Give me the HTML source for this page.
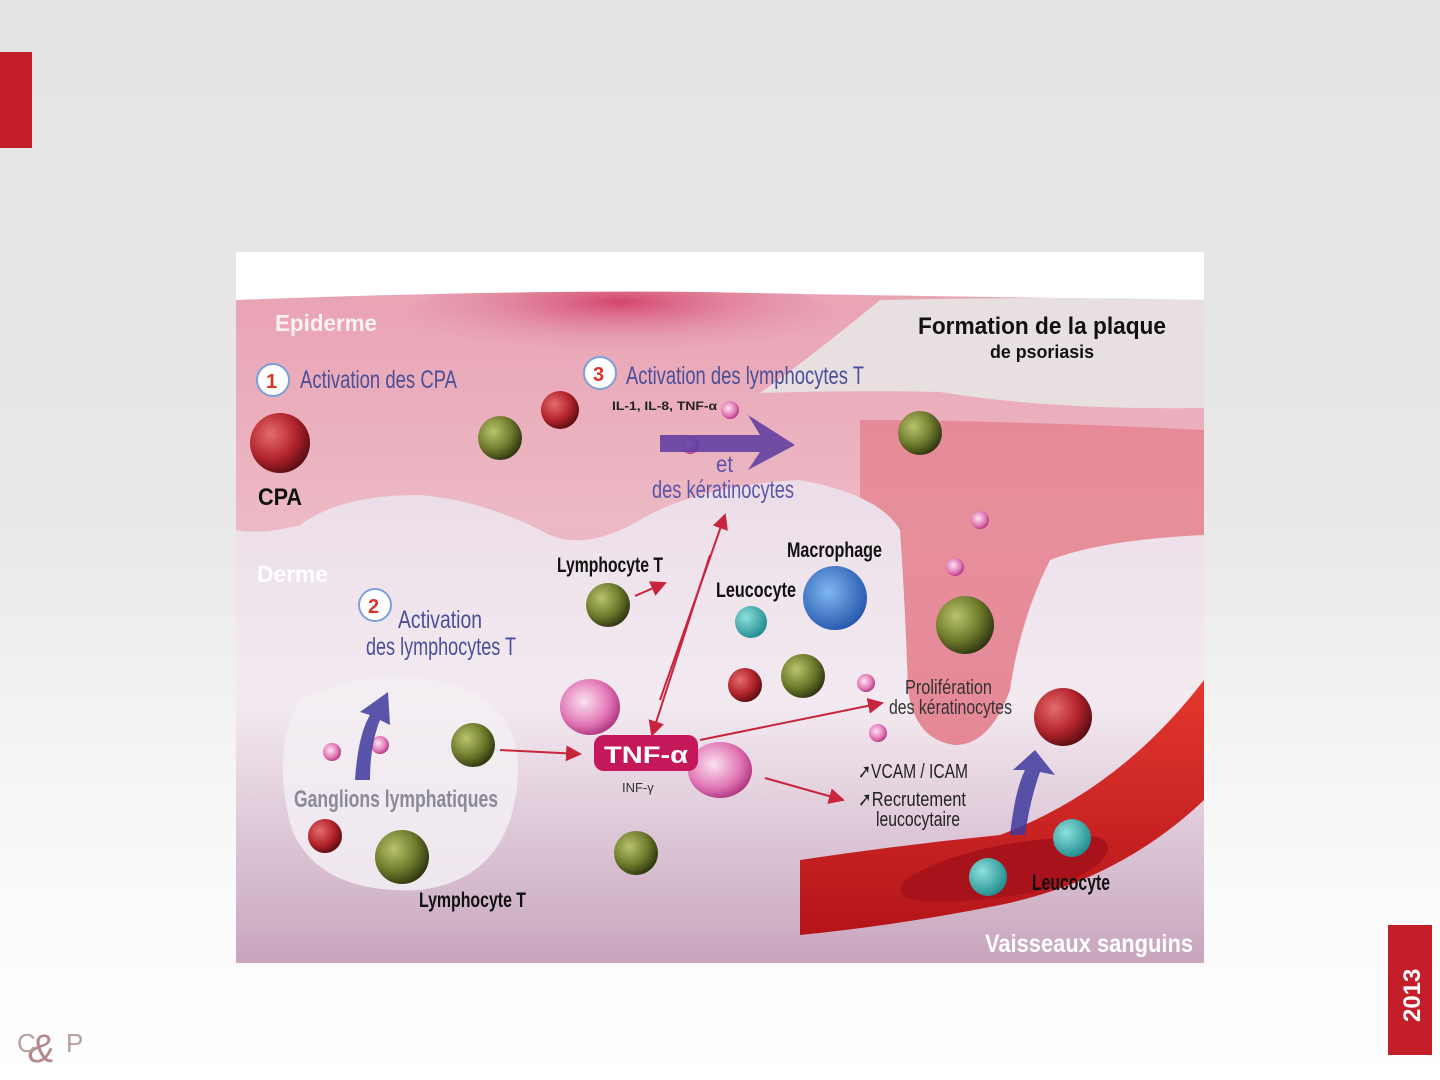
<!DOCTYPE html>
<html><head><meta charset="utf-8"><style>
html,body{margin:0;padding:0;width:1440px;height:1080px;overflow:hidden;background:linear-gradient(#e4e4e4 0px,#e8e8e8 500px,#fbfbfb 900px,#fff 1080px);}
svg{position:absolute;left:0;top:0}
text{font-family:"Liberation Sans",sans-serif}
</style></head><body>
<svg width="1440" height="1080" viewBox="0 0 1440 1080">
<defs>
<linearGradient id="epi" x1="0" y1="0" x2="0" y2="1">
<stop offset="0" stop-color="#e9a3b4"/><stop offset="0.5" stop-color="#ecb9c5"/><stop offset="1" stop-color="#e8aebb"/></linearGradient>
<radialGradient id="topred" cx="0.5" cy="0.3" r="0.6"><stop offset="0" stop-color="#d4456e"/><stop offset="1" stop-color="#e7a7b7" stop-opacity="0"/></radialGradient>
<linearGradient id="derm" x1="0" y1="0" x2="0" y2="1"><stop offset="0" stop-color="#eadbe6"/><stop offset="0.5" stop-color="#f3eaf1"/><stop offset="1" stop-color="#c8a5bd"/></linearGradient>
<radialGradient id="g" cx="0.35" cy="0.35" r="0.7"><stop offset="0" stop-color="#b9c46a"/><stop offset="0.6" stop-color="#6d7a2c"/><stop offset="1" stop-color="#2e3410"/></radialGradient>
<radialGradient id="r" cx="0.35" cy="0.35" r="0.7"><stop offset="0" stop-color="#e46c6c"/><stop offset="0.6" stop-color="#b3242c"/><stop offset="1" stop-color="#5a0d12"/></radialGradient>
<radialGradient id="c" cx="0.35" cy="0.35" r="0.7"><stop offset="0" stop-color="#8ee0dc"/><stop offset="1" stop-color="#1f8c8e"/></radialGradient>
<radialGradient id="b" cx="0.4" cy="0.4" r="0.7"><stop offset="0" stop-color="#7fb7ef"/><stop offset="1" stop-color="#1d4fa8"/></radialGradient>
<radialGradient id="p" cx="0.4" cy="0.4" r="0.7"><stop offset="0" stop-color="#fbe3f1"/><stop offset="0.6" stop-color="#e277b6"/><stop offset="1" stop-color="#a0226e"/></radialGradient>
<linearGradient id="ves" x1="0" y1="0" x2="0" y2="1"><stop offset="0" stop-color="#e4382e"/><stop offset="1" stop-color="#b4141a"/></linearGradient>
<marker id="ah" markerWidth="8" markerHeight="8" refX="7" refY="4" orient="auto"><path d="M0,0 L8,4 L0,8 z" fill="#c8243c"/></marker>
<clipPath id="ec"><path id="epath" d="M236,300 Q500,290 700,292 Q900,296 1204,300 L1204,535 Q1100,540 1050,560 Q1020,620 1010,690 Q990,745 955,745 Q915,740 908,690 Q905,600 900,530 Q880,495 800,480 Q700,485 640,520 Q580,555 540,530 Q480,500 420,495 Q340,495 300,525 Q260,535 236,530 Z"/></clipPath>
</defs>
<rect x="0" y="52" width="32" height="96" fill="#c41e2a"/>
<rect x="236" y="252" width="968" height="711" fill="#fff"/>
<rect x="236" y="440" width="968" height="523" fill="url(#derm)"/>
<path d="M236,300 Q500,290 700,292 Q900,296 1204,300 L1204,535 Q1100,540 1050,560 Q1020,620 1010,690 Q990,745 955,745 Q915,740 908,690 Q905,600 900,530 Q880,495 800,480 Q700,485 640,520 Q580,555 540,530 Q480,500 420,495 Q340,495 300,525 Q260,535 236,530 Z" fill="url(#epi)"/>
<g clip-path="url(#ec)">
<ellipse cx="620" cy="320" rx="220" ry="45" fill="url(#topred)"/>
<path d="M860,420 Q1000,420 1204,430 L1204,760 L860,760Z" fill="#e25a6a" opacity="0.45"/>
</g>
<path d="M880,300 Q1050,296 1204,300 L1204,408 Q1050,410 940,392 Q850,390 760,393 Q820,350 880,300Z" fill="#e8e0e0"/>
<path d="M300,700 Q380,660 470,690 Q530,720 515,800 Q500,880 420,890 Q320,895 292,830 Q270,750 300,700Z" fill="#f3eef3" opacity="0.85"/>
<path d="M800,860 Q900,845 1000,835 Q1120,790 1204,680 L1204,800 Q1120,880 1000,905 Q900,925 800,935 Z" fill="url(#ves)"/>
<path d="M905,880 Q960,845 1060,838 Q1110,830 1108,850 Q1100,875 1030,893 Q960,905 910,900 Q895,892 905,880Z" fill="#a8121a"/>
<circle cx="988" cy="877" r="19" fill="url(#c)"/><circle cx="1072" cy="838" r="19" fill="url(#c)"/>
<circle cx="280" cy="443" r="30" fill="url(#r)"/>
<circle cx="560" cy="410" r="19" fill="url(#r)"/>
<circle cx="500" cy="438" r="22" fill="url(#g)"/>
<circle cx="920" cy="433" r="22" fill="url(#g)"/>
<circle cx="965" cy="625" r="29" fill="url(#g)"/>
<circle cx="608" cy="605" r="22" fill="url(#g)"/>
<circle cx="803" cy="676" r="22" fill="url(#g)"/>
<circle cx="473" cy="745" r="22" fill="url(#g)"/>
<circle cx="402" cy="857" r="27" fill="url(#g)"/>
<circle cx="636" cy="853" r="22" fill="url(#g)"/>
<circle cx="745" cy="685" r="17" fill="url(#r)"/>
<circle cx="325" cy="836" r="17" fill="url(#r)"/>
<circle cx="1063" cy="717" r="29" fill="url(#r)"/>
<circle cx="751" cy="622" r="16" fill="url(#c)"/>
<circle cx="835" cy="598" r="32" fill="url(#b)"/>
<ellipse cx="590" cy="707" rx="30" ry="28" fill="url(#p)"/>
<ellipse cx="720" cy="770" rx="32" ry="28" fill="url(#p)"/>
<circle cx="866" cy="683" r="9" fill="url(#p)"/><circle cx="878" cy="733" r="9" fill="url(#p)"/>
<circle cx="980" cy="520" r="9" fill="url(#p)"/><circle cx="955" cy="567" r="9" fill="url(#p)"/>
<circle cx="690" cy="445" r="9" fill="url(#p)"/><circle cx="730" cy="410" r="9" fill="url(#p)"/>
<circle cx="332" cy="752" r="9" fill="url(#p)"/><circle cx="380" cy="745" r="9" fill="url(#p)"/>
<path d="M660,435 L760,435 L748,415 L795,445 L748,470 L760,452 L660,452Z" fill="#5a3aa0" opacity="0.85"/>
<path d="M355,780 Q358,735 370,715 L360,712 L388,692 L390,725 L380,720 Q370,745 370,780Z" fill="#3d3a9c" opacity="0.85"/>
<path d="M1010,835 Q1015,790 1025,770 L1013,770 L1035,750 L1055,775 L1040,772 Q1030,800 1025,835Z" fill="#3d3a9c" opacity="0.85"/>
<g stroke="#c8243c" stroke-width="2" fill="none" marker-end="url(#ah)">
<line x1="635" y1="596" x2="665" y2="583"/>
<line x1="500" y1="750" x2="580" y2="754"/>
<line x1="660" y1="700" x2="725" y2="515"/>
<line x1="710" y1="555" x2="652" y2="735"/>
<line x1="700" y1="740" x2="882" y2="703"/>
<line x1="765" y1="778" x2="843" y2="800"/>
</g>
<rect x="594" y="735" width="104" height="36" rx="10" fill="#c4185a"/>
<text x="604" y="763" fill="#fff" font-size="24" font-weight="bold" textLength="84" lengthAdjust="spacingAndGlyphs">TNF-α</text>
<text x="622" y="792" fill="#333" font-size="13">INF-γ</text>
<g lengthAdjust="spacingAndGlyphs">
<text x="275" y="331" fill="#fff" font-size="23" font-weight="bold" opacity="0.85" textLength="102" lengthAdjust="spacingAndGlyphs">Epiderme</text>
<text x="918" y="334" fill="#111" font-size="24" font-weight="bold" textLength="248" lengthAdjust="spacingAndGlyphs">Formation de la plaque</text>
<text x="990" y="358" fill="#111" font-size="18" font-weight="bold" textLength="104" lengthAdjust="spacingAndGlyphs">de psoriasis</text>
<circle cx="273" cy="380" r="16" fill="#fff" stroke="#7aa0d8" stroke-width="2"/>
<text x="266" y="388" fill="#d8352a" font-size="20" font-weight="bold">1</text>
<text x="300" y="388" fill="#4a4f98" font-size="25" textLength="157" lengthAdjust="spacingAndGlyphs">Activation des CPA</text>
<circle cx="600" cy="373" r="16" fill="#fff" stroke="#7aa0d8" stroke-width="2"/>
<text x="593" y="381" fill="#d8352a" font-size="20" font-weight="bold">3</text>
<text x="626" y="384" fill="#4a4f98" font-size="25" textLength="238" lengthAdjust="spacingAndGlyphs">Activation des lymphocytes T</text>
<text x="612" y="410" fill="#222" font-size="12" font-weight="bold" textLength="105" lengthAdjust="spacingAndGlyphs">IL-1, IL-8, TNF-α</text>
<text x="716" y="472" fill="#5a56a8" font-size="23" textLength="17" lengthAdjust="spacingAndGlyphs">et</text>
<text x="652" y="498" fill="#5a56a8" font-size="25" textLength="142" lengthAdjust="spacingAndGlyphs">des kératinocytes</text>
<text x="258" y="505" fill="#111" font-size="24" font-weight="bold" textLength="44" lengthAdjust="spacingAndGlyphs">CPA</text>
<text x="257" y="582" fill="#fff" font-size="23" font-weight="bold" textLength="71" lengthAdjust="spacingAndGlyphs">Derme</text>
<text x="557" y="572" fill="#111" font-size="21" font-weight="bold" textLength="106" lengthAdjust="spacingAndGlyphs">Lymphocyte T</text>
<text x="787" y="557" fill="#111" font-size="21" font-weight="bold" textLength="95" lengthAdjust="spacingAndGlyphs">Macrophage</text>
<text x="716" y="597" fill="#111" font-size="21" font-weight="bold" textLength="80" lengthAdjust="spacingAndGlyphs">Leucocyte</text>
<circle cx="375" cy="605" r="16" fill="#fff" stroke="#7aa0d8" stroke-width="2"/>
<text x="368" y="613" fill="#d8352a" font-size="20" font-weight="bold">2</text>
<text x="398" y="628" fill="#4a4f98" font-size="25" textLength="84" lengthAdjust="spacingAndGlyphs">Activation</text>
<text x="366" y="655" fill="#4a4f98" font-size="25" textLength="150" lengthAdjust="spacingAndGlyphs">des lymphocytes T</text>
<text x="294" y="807" fill="#8a8a9a" font-size="24" font-weight="bold" textLength="204" lengthAdjust="spacingAndGlyphs">Ganglions lymphatiques</text>
<text x="419" y="907" fill="#111" font-size="21" font-weight="bold" textLength="107" lengthAdjust="spacingAndGlyphs">Lymphocyte T</text>
<text x="905" y="694" fill="#333" font-size="20" textLength="87" lengthAdjust="spacingAndGlyphs">Prolifération</text>
<text x="889" y="714" fill="#333" font-size="20" textLength="123" lengthAdjust="spacingAndGlyphs">des kératinocytes</text>
<text x="858" y="778" fill="#222" font-size="20" textLength="110" lengthAdjust="spacingAndGlyphs">➚VCAM / ICAM</text>
<text x="858" y="806" fill="#222" font-size="20" textLength="108" lengthAdjust="spacingAndGlyphs">➚Recrutement</text>
<text x="876" y="826" fill="#222" font-size="20" textLength="84" lengthAdjust="spacingAndGlyphs">leucocytaire</text>
<text x="1032" y="890" fill="#111" font-size="22" font-weight="bold" textLength="78" lengthAdjust="spacingAndGlyphs">Leucocyte</text>
<text x="985" y="952" fill="#fff" font-size="25" font-weight="bold" textLength="208" lengthAdjust="spacingAndGlyphs">Vaisseaux sanguins</text>
</g>
<rect x="1388" y="925" width="44" height="130" fill="#c41e2a"/>
<text transform="translate(1420,1022) rotate(-90)" fill="#fff" font-size="24" font-weight="bold">2013</text>
<text x="28" y="1062" fill="#b38a8a" font-size="40" font-family="Liberation Serif" font-style="italic">&amp;</text>
<text x="17" y="1052" fill="#b8a0a0" font-size="26" font-family="Liberation Serif">C</text>
<text x="66" y="1052" fill="#b8a0a0" font-size="26" font-family="Liberation Serif">P</text>
</svg>
</body></html>
